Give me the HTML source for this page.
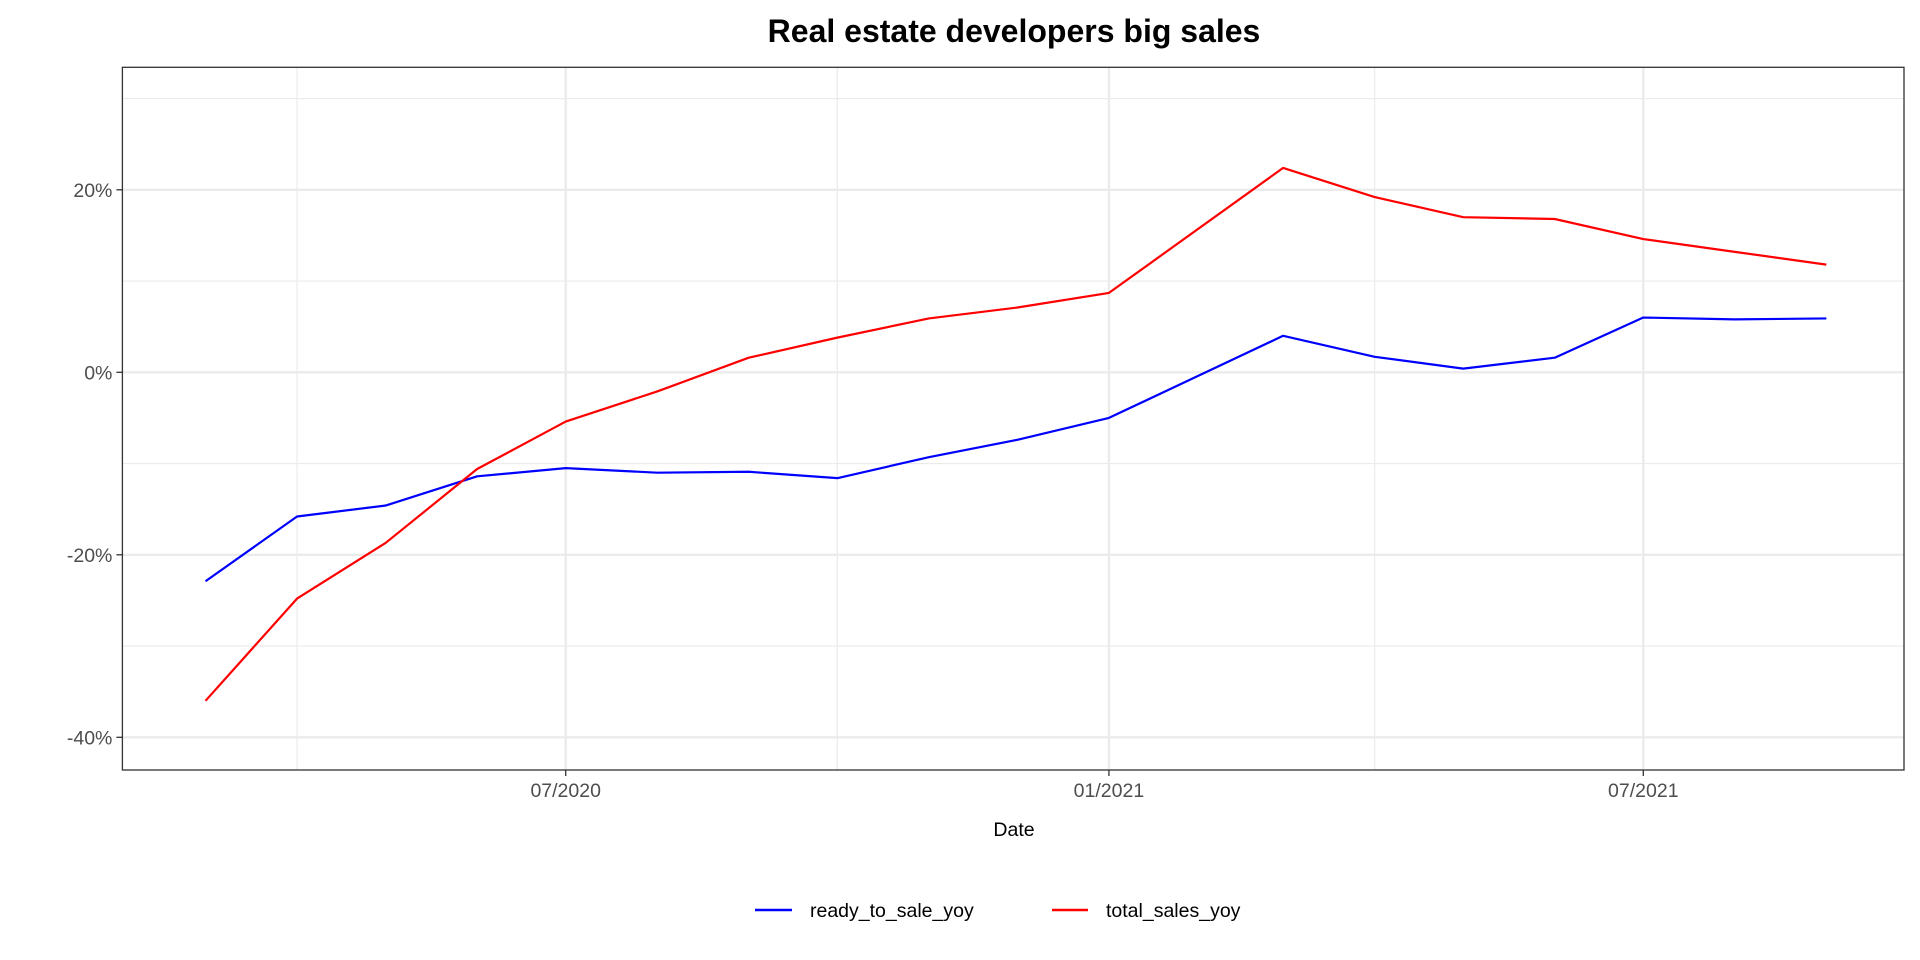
<!DOCTYPE html>
<html><head><meta charset="utf-8"><style>
html,body{margin:0;padding:0;background:#fff;}
svg{display:block;font-family:"Liberation Sans",Arial,sans-serif;}
</style></head><body>
<svg id="chart" width="1920" height="960" viewBox="0 0 1920 960">
<text x="1014" y="42" text-anchor="middle" font-size="32" font-weight="bold" fill="#000">Real estate developers big sales</text>
<g id="grid"></g>
<g id="series"></g>
<rect x="122.4" y="67.3" width="1781.6" height="702.7" fill="none" stroke="#333" stroke-width="1.3"/>
<g id="axes"></g>
<text x="1014" y="836" text-anchor="middle" font-size="19.5" fill="#000">Date</text>
<g>
<line x1="755" y1="910" x2="792" y2="910" stroke="#0000ff" stroke-width="2.4"/>
<text x="810" y="917" font-size="19.5" fill="#000">ready_to_sale_yoy</text>
<line x1="1052" y1="910" x2="1088" y2="910" stroke="#ff0000" stroke-width="2.4"/>
<text x="1106" y="917" font-size="19.5" fill="#000">total_sales_yoy</text>
</g>
</svg>
<script>
const dates = ["2020-03-01","2020-04-01","2020-05-01","2020-06-01","2020-07-01","2020-08-01","2020-09-01","2020-10-01","2020-11-01","2020-12-01","2021-01-01","2021-03-01","2021-04-01","2021-05-01","2021-06-01","2021-07-01","2021-08-01","2021-09-01"];
const readyToSale = [-22.9,-15.8,-14.6,-11.4,-10.5,-11.0,-10.9,-11.6,-9.3,-7.4,-5.0,4.0,1.7,0.4,1.6,6.0,5.8,5.9];
const totalSales = [-36.0,-24.8,-18.7,-10.6,-5.4,-2.1,1.6,3.8,5.9,7.1,8.7,22.4,19.2,17.0,16.8,14.6,13.2,11.8];
const yTicks = [-40,-20,0,20];
const yMinor = [-30,-10,10,30];
const xTickDates = ["2020-07-01","2021-01-01","2021-07-01"];
const xTickLabels = ["07/2020","01/2021","07/2021"];
const xMinorDates = ["2020-04-01","2020-10-01","2021-04-01"];

const NS="http://www.w3.org/2000/svg";
const L=122.4,R=1904,T=67.3,B=770;
const d0=Date.parse("2020-07-01"),d1=Date.parse("2021-07-01");
const px0=565.7,px1=1643.3;
function x(d){const t=Date.parse(d);return px0+(t-d0)/(d1-d0)*(px1-px0);}
function y(v){return 372.3-v*(182.5/20);}
function mk(tag,attrs,parent){const e=document.createElementNS(NS,tag);for(const k in attrs)e.setAttribute(k,attrs[k]);parent.appendChild(e);return e;}
const grid=document.getElementById('grid'),axes=document.getElementById('axes'),series=document.getElementById('series');
yMinor.forEach(v=>{const e=mk('line',{x1:L,x2:R,y1:y(v),y2:y(v),stroke:'#ebebeb','stroke-width':1.2},grid);

});
xMinorDates.forEach(d=>{const e=mk('line',{x1:x(d),x2:x(d),y1:T,y2:B,stroke:'#ebebeb','stroke-width':1.2},grid);

});
yTicks.forEach(v=>{const e=mk('line',{x1:L,x2:R,y1:y(v),y2:y(v),stroke:'#ebebeb','stroke-width':2.4},grid);


const t=mk('line',{x1:L-6,x2:L,y1:y(v),y2:y(v),stroke:'#333','stroke-width':1.3},axes);


const lb=mk('text',{x:L-10,y:y(v)+7,'text-anchor':'end','font-size':19.5,fill:'#4d4d4d'},axes);
lb.textContent=v+'%';

});
xTickDates.forEach((d,i)=>{const e=mk('line',{x1:x(d),x2:x(d),y1:T,y2:B,stroke:'#ebebeb','stroke-width':2.4},grid);


const t=mk('line',{x1:x(d),x2:x(d),y1:B,y2:B+6,stroke:'#333','stroke-width':1.3},axes);


const lb=mk('text',{x:x(d),y:B+27,'text-anchor':'middle','font-size':19.5,fill:'#4d4d4d'},axes);
lb.textContent=xTickLabels[i];

});
function line(vals,color,name){const p=mk('polyline',{points:vals.map((v,i)=>x(dates[i])+','+y(v)).join(' '),fill:'none',stroke:color,'stroke-width':2.2,'stroke-linejoin':'round'},series);

}
line(readyToSale,'#0000ff','ready-to-sale-line');
line(totalSales,'#ff0000','total-sales-line');
</script>
</body></html>
